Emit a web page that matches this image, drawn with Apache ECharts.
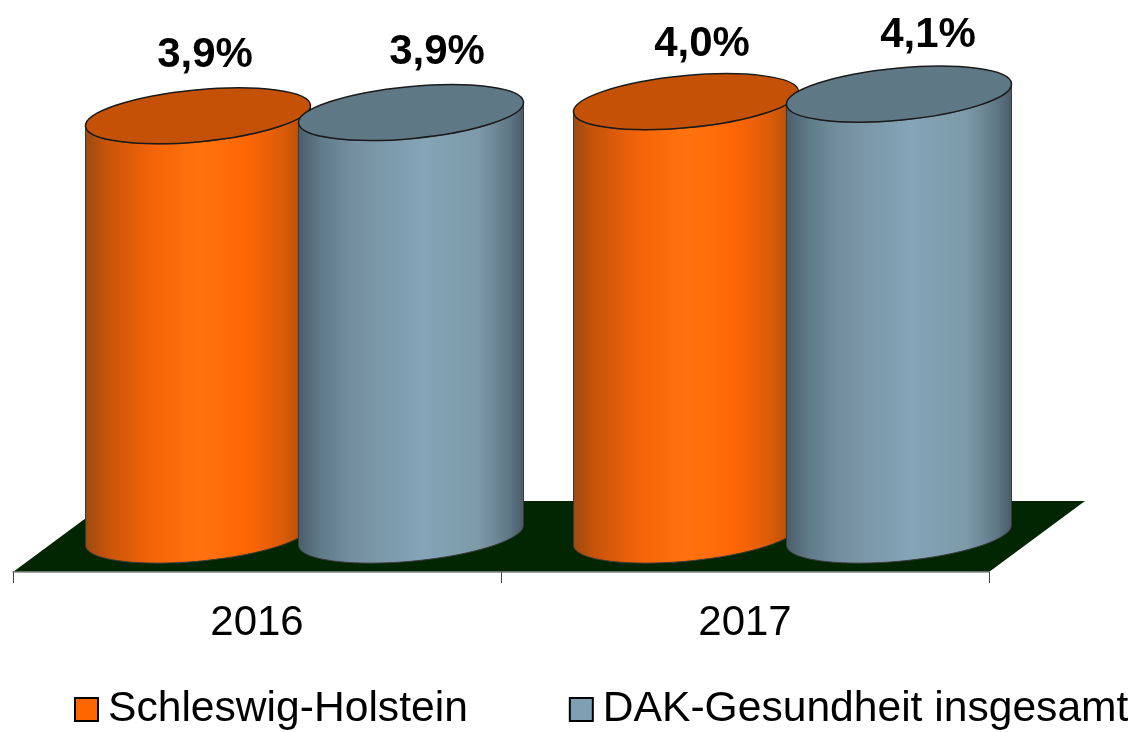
<!DOCTYPE html>
<html>
<head>
<meta charset="utf-8">
<title>Chart</title>
<script src="https://cdn.jsdelivr.net/npm/echarts@6/dist/echarts.min.js"></script>
<style>
  html,body{margin:0;padding:0;background:#fff;}
  #main{width:1137px;height:732px;}
</style>
</head>
<body>
<div id="main"></div>
<script>
  const years = ['2016', '2017'];
  const seriesNames = ['Schleswig-Holstein', 'DAK-Gesundheit insgesamt'];
  const schleswigHolstein = [3.87, 4.0];
  const dakGesamt = [3.9, 4.07];

  // cylinder look, ellipse is tilted a bit like in the old 3d office charts
  const ELL_A = 113, ELL_B = 26, TILT = 5.4 * Math.PI / 180;
  const FONT = '"Liberation Sans", Arial, sans-serif';

  function ellipsePoint(cx, cy, t){
    return [
      cx + ELL_A * Math.cos(t) * Math.cos(TILT) + ELL_B * Math.sin(t) * Math.sin(TILT),
      cy - ELL_A * Math.cos(t) * Math.sin(TILT) + ELL_B * Math.sin(t) * Math.cos(TILT)
    ];
  }

  function cylinderItem(shift, labelDx, labelDy, side, top){
    return function(params, api){
      let cat = api.value(0);
      let val = api.value(1);
      let base = api.coord([cat, 0]);
      let head = api.coord([cat, val]);
      let cx = base[0] + shift;
      let t0 = Math.atan(ELL_B / ELL_A * Math.tan(TILT));
      let lower = [], upper = [];
      for(let i = 0; i <= 60; i++){
        let t = t0 + Math.PI * i / 60;
        lower.push(ellipsePoint(cx, base[1], t));
        upper.unshift(ellipsePoint(cx, head[1], t));
      }
      return {
        type: 'group',
        children: [
          {
            type: 'polygon',
            shape: {points: lower.concat(upper)},
            style: {
              fill: new echarts.graphic.LinearGradient(0, 0, 1, 0, side),
              stroke: '#3a3a3a',
              lineWidth: 1
            }
          },
          {
            type: 'ellipse',
            shape: {cx: cx, cy: head[1], rx: ELL_A, ry: ELL_B},
            rotation: TILT,
            originX: cx,
            originY: head[1],
            style: {fill: top, stroke: '#1a1a1a', lineWidth: 1.5}
          },
          {
            type: 'text',
            x: cx + labelDx[cat],
            y: head[1] - 62 + labelDy[cat],
            style: {
              text: val.toFixed(1).replace('.', ',') + '%',
              font: 'bold 42px ' + FONT,
              fill: '#000',
              align: 'center',
              verticalAlign: 'middle'
            }
          }
        ]
      };
    };
  }

  function floorItem(params){
    let g = params.coordSys;
    let bottom = g.y + g.height;
    return {
      type: 'polygon',
      shape: {points: [
        [g.x, bottom],
        [g.x + g.width, bottom],
        [g.x + g.width + 96, bottom - 71],
        [g.x + 96, bottom - 71]
      ]},
      style: {fill: '#022602'}
    };
  }

  const orangeSide = [
    {offset: 0, color: '#9a4a12'},
    {offset: 0.09, color: '#c5540a'},
    {offset: 0.3, color: '#f56408'},
    {offset: 0.5, color: '#ff730e'},
    {offset: 0.72, color: '#ff6605'},
    {offset: 0.88, color: '#d95b08'},
    {offset: 1, color: '#a24a0c'}
  ];
  const blueSide = [
    {offset: 0, color: '#4a5d6b'},
    {offset: 0.1, color: '#5f7a88'},
    {offset: 0.25, color: '#7590a0'},
    {offset: 0.55, color: '#84a5b8'},
    {offset: 0.8, color: '#7d9aa8'},
    {offset: 0.93, color: '#5f7886'},
    {offset: 1, color: '#4a5a68'}
  ];

  let chart = echarts.init(document.getElementById('main'));
  let option = {
    animation: false,
    backgroundColor: '#fff',
    grid: {left: 13, right: 148, top: 15, height: 557},
    legend: {
      left: 69,
      top: 683,
      itemWidth: 23,
      itemHeight: 23,
      itemGap: 101,
      icon: 'rect',
      textStyle: {fontFamily: FONT, fontSize: 42.6, color: '#000', padding: [0, 0, 0, 5]},
      data: [
        {name: seriesNames[0], itemStyle: {color: '#ff6600', borderColor: '#000', borderWidth: 2}},
        {name: seriesNames[1], itemStyle: {color: '#7f9fb2', borderColor: '#000', borderWidth: 2}}
      ]
    },
    xAxis: {
      type: 'category',
      position: 'bottom',
      data: years,
      z: 10,
      axisLine: {show: true, onZero: false, lineStyle: {color: '#8a8a8a', width: 1.5}},
      axisTick: {show: true, length: 11, lineStyle: {color: '#444', width: 1}},
      axisLabel: {fontFamily: FONT, fontSize: 42, color: '#000', margin: 30}
    },
    yAxis: {type: 'value', min: -0.34, max: 4.8, show: false},
    series: [
      {
        name: 'floor',
        type: 'custom',
        renderItem: floorItem,
        data: [0],
        silent: true,
        z: 1
      },
      {
        name: seriesNames[0],
        type: 'custom',
        renderItem: cylinderItem(-59, [7, 16], [2, 5], orangeSide, '#c45105'),
        itemStyle: {color: '#ff6600'},
        encode: {x: 0, y: 1},
        data: years.map((y, i) => [i, schleswigHolstein[i]]),
        z: 2
      },
      {
        name: seriesNames[1],
        type: 'custom',
        renderItem: cylinderItem(154, [26, 29], [2, 3], blueSide, '#5f7885'),
        itemStyle: {color: '#7f9fb2'},
        encode: {x: 0, y: 1},
        data: years.map((y, i) => [i, dakGesamt[i]]),
        z: 3
      }
    ]
  };
  chart.setOption(option);
</script>
</body>
</html>
